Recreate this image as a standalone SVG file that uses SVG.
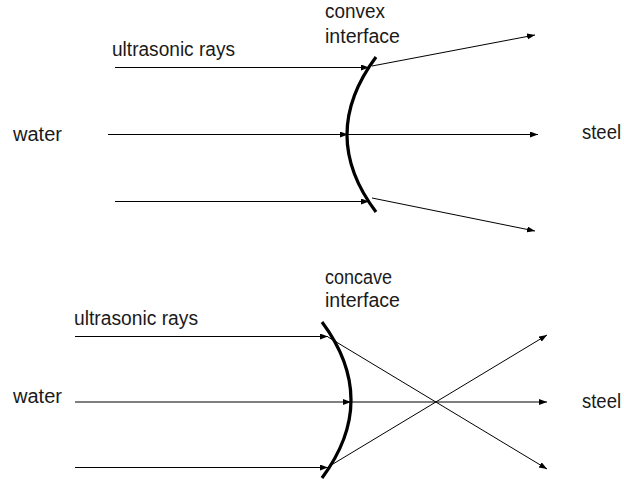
<svg xmlns="http://www.w3.org/2000/svg" width="624" height="479" viewBox="0 0 624 479">
  <defs>
    <marker id="arrow" markerUnits="userSpaceOnUse" markerWidth="9" markerHeight="7" refX="8" refY="3" orient="auto">
      <path d="M0,0 L8,3 L0,6 z" fill="#000"/>
    </marker>
    <style>
      .lbl { font-family: "Liberation Sans", Arial, sans-serif; font-size: 20px; fill: #1a1a1a; }
      .ray { stroke: #000; stroke-width: 1; fill: none; marker-end: url(#arrow); }
      .iface { stroke: #000; stroke-width: 3.2; fill: none; stroke-linecap: butt; }
    </style>
  </defs>

  <rect width="624" height="479" fill="#fff"/>

  <!-- Convex interface (top) -->
  <g id="convex-interface">
    <path class="iface" d="M376,57 Q318,135 376,212"/>
    <text class="lbl" x="325" y="18" textLength="60" lengthAdjust="spacingAndGlyphs">convex</text>
    <text class="lbl" x="325" y="43" textLength="75" lengthAdjust="spacingAndGlyphs">interface</text>
  </g>
  <g id="water-top"><text class="lbl" x="13" y="141" textLength="49" lengthAdjust="spacingAndGlyphs">water</text></g>
  <g id="steel-top"><text class="lbl" x="582" y="139" textLength="39" lengthAdjust="spacingAndGlyphs">steel</text></g>
  <g id="rays-label-top"><text class="lbl" x="112" y="56" textLength="123" lengthAdjust="spacingAndGlyphs">ultrasonic rays</text></g>

  <!-- Concave interface (bottom) -->
  <g id="concave-interface">
    <path class="iface" d="M322,322 Q380,400 322,478"/>
    <text class="lbl" x="325" y="284" textLength="67" lengthAdjust="spacingAndGlyphs">concave</text>
    <text class="lbl" x="325" y="307" textLength="75" lengthAdjust="spacingAndGlyphs">interface</text>
  </g>
  <g id="water-bottom"><text class="lbl" x="13" y="403" textLength="49" lengthAdjust="spacingAndGlyphs">water</text></g>
  <g id="steel-bottom"><text class="lbl" x="582" y="408" textLength="39" lengthAdjust="spacingAndGlyphs">steel</text></g>
  <g id="rays-label-bottom"><text class="lbl" x="74" y="325" textLength="124" lengthAdjust="spacingAndGlyphs">ultrasonic rays</text></g>

  <!-- Connectors: incident and refracted rays -->
  <g id="connectors">
    <!-- top: diverging after convex interface -->
    <line class="ray" x1="115" y1="67.5" x2="369" y2="67.5"/>
    <line class="ray" x1="372" y1="66" x2="535" y2="35"/>
    <line class="ray" x1="108" y1="134.5" x2="348" y2="134.5"/>
    <line class="ray" x1="346" y1="134.5" x2="538" y2="134.5"/>
    <line class="ray" x1="115" y1="201.5" x2="369" y2="201.5"/>
    <line class="ray" x1="372" y1="198" x2="535" y2="231"/>

    <!-- bottom: converging after concave interface -->
    <line class="ray" x1="75" y1="336.5" x2="328" y2="336.5"/>
    <line class="ray" x1="328" y1="337" x2="547" y2="469"/>
    <line class="ray" x1="75" y1="402" x2="351" y2="402"/>
    <line class="ray" x1="349" y1="402" x2="547" y2="402"/>
    <line class="ray" x1="75" y1="467.5" x2="328" y2="467.5"/>
    <line class="ray" x1="328" y1="467" x2="547" y2="335"/>
  </g>
</svg>
